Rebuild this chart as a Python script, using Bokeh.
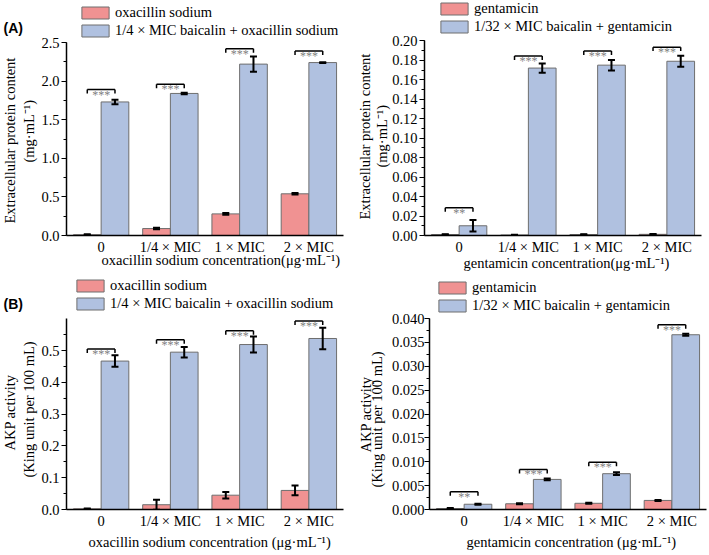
import math
from bokeh.plotting import figure
from bokeh.layouts import column, row
from bokeh.models import (Range1d, FixedTicker, SingleIntervalTicker, NumeralTickFormatter,
                          ColumnDataSource, Whisker, TeeHead, Legend, LegendItem, Title)
from bokeh.core.properties import value
from bokeh.embed import file_html
from bokeh.resources import INLINE

# ---------------- data ----------------
categories = ["0", "1/4 × MIC", "1 × MIC", "2 × MIC"]

# (A) left: extracellular protein, oxacillin sodium
prot_oxa = [0.01, 0.09, 0.28, 0.54]
prot_oxa_err = [0.005, 0.01, 0.01, 0.01]
prot_oxa_bai = [1.73, 1.84, 2.22, 2.24]
prot_oxa_bai_err = [0.03, 0.01, 0.10, 0.005]
prot_oxa_sig_y = [1.89, 1.96, 2.42, 2.39]
prot_oxa_sig = ["***", "***", "***", "***"]

# (A) right: extracellular protein, gentamicin
prot_gen = [0.001, 0.0005, 0.001, 0.0012]
prot_gen_err = [0.0003, 0.0003, 0.0003, 0.0003]
prot_gen_bai = [0.010, 0.172, 0.175, 0.179]
prot_gen_bai_err = [0.0058, 0.0047, 0.0054, 0.0057]
prot_gen_sig_y = [0.0284, 0.1844, 0.1895, 0.1935]
prot_gen_sig = ["**", "***", "***", "***"]

# (B) left: AKP activity, oxacillin sodium
akp_oxa = [0.002, 0.015, 0.045, 0.060]
akp_oxa_err = [0.001, 0.0155, 0.010, 0.0155]
akp_oxa_bai = [0.467, 0.495, 0.519, 0.538]
akp_oxa_bai_err = [0.018, 0.0165, 0.025, 0.034]
akp_oxa_sig_y = [0.505, 0.534, 0.562, 0.593]
akp_oxa_sig = ["***", "***", "***", "***"]

# (B) right: AKP activity, gentamicin
akp_gen = [0.0002, 0.0012, 0.0013, 0.0019]
akp_gen_err = [0.0001, 0.0001, 0.0001, 0.0001]
akp_gen_bai = [0.0011, 0.0063, 0.0075, 0.0366]
akp_gen_bai_err = [0.0001, 0.0002, 0.0003, 0.0002]
akp_gen_sig_y = [0.0037, 0.0084, 0.0099, 0.0387]
akp_gen_sig = ["**", "***", "***", "***"]

RED = "#F09292"
BLUE = "#B0C1E0"
EDGE = "#6E6E6E"
SERIF = "Liberation Serif"
FS = "14.5px"


def set_standoff(t, s):
    try:
        t.standoff = s
    except Exception:
        t.standoff = 0


def make_panel(width, height, bl, br, frame_bottom, axis_top, ymax, yint, yfmt,
               red, red_err, blue, blue_err, sig_y, sig, leg_labels, leg_pos,
               ylabels, ylab_cfg, xtitle, xt_cfg, panel_label=None, ylab_standoff=2):
    # frame spans from the top of the canvas down to frame_bottom; the y axis is bounded to [0, ymax]
    y_end = ymax * frame_bottom / float(frame_bottom - axis_top)
    p = figure(width=width, height=height, output_backend="svg", toolbar_location=None,
               x_range=Range1d(-0.5, 3.5), y_range=Range1d(0, y_end),
               min_border_left=bl, min_border_right=br, min_border_top=0,
               min_border_bottom=height - frame_bottom)
    p.xgrid.visible = False
    p.ygrid.visible = False
    p.outline_line_color = None
    p.background_fill_color = None
    p.border_fill_color = "white"

    idx = list(range(len(categories)))
    xr = [i - 0.2 for i in idx]
    xb = [i + 0.2 for i in idx]

    r_red = p.vbar(x=xr, top=red, width=0.4, bottom=0, fill_color=RED, line_color=EDGE, line_width=1)
    r_blue = p.vbar(x=xb, top=blue, width=0.4, bottom=0, fill_color=BLUE, line_color=EDGE, line_width=1)

    for xs, vals, errs in ((xr, red, red_err), (xb, blue, blue_err)):
        src = ColumnDataSource(dict(x=xs, up=[v + e for v, e in zip(vals, errs)],
                                    lo=[v - e for v, e in zip(vals, errs)]))
        w = Whisker(source=src, base="x", upper="up", lower="lo", line_width=2, line_color="black",
                    upper_head=TeeHead(size=7, line_width=2, line_color="black"),
                    lower_head=TeeHead(size=7, line_width=2, line_color="black"))
        w.level = "annotation"
        p.add_layout(w)

    # significance brackets
    drop = ymax * 4.0 / (frame_bottom - axis_top)
    p.segment(x0=xr, x1=xb, y0=sig_y, y1=sig_y, line_color="black", line_width=1.5)
    p.segment(x0=xr, x1=xr, y0=sig_y, y1=[y - drop for y in sig_y], line_color="black", line_width=1.5)
    p.segment(x0=xb, x1=xb, y0=sig_y, y1=[y - drop for y in sig_y], line_color="black", line_width=1.5)
    p.text(x=idx, y=sig_y, text=sig, text_align="center", text_baseline="alphabetic",
           y_offset=5, text_font=value(SERIF), text_font_size="12px", text_color="#808080")

    # axes
    xa = p.xaxis[0]
    xa.ticker = FixedTicker(ticks=idx)
    xa.major_label_overrides = {i: c for i, c in enumerate(categories)}
    xa.major_tick_line_color = None
    xa.minor_tick_line_color = None
    xa.major_tick_out = 0
    xa.major_tick_in = 0
    xa.minor_tick_out = 0
    xa.minor_tick_in = 0
    xa.axis_line_width = 1.5
    xa.axis_line_color = "black"
    xa.major_label_standoff = 3
    xa.major_label_text_font = SERIF
    xa.major_label_text_font_size = FS
    xa.major_label_text_color = "black"

    ya = p.yaxis[0]
    ya.bounds = (0, ymax)
    ya.ticker = SingleIntervalTicker(interval=yint, num_minor_ticks=2)
    ya.formatter = NumeralTickFormatter(format=yfmt)
    ya.axis_line_width = 1.5
    ya.axis_line_color = "black"
    ya.major_tick_in = 0
    ya.major_tick_out = 5
    ya.minor_tick_in = 0
    ya.minor_tick_out = 3
    ya.major_tick_line_color = "black"
    ya.minor_tick_line_color = "black"
    ya.major_tick_line_width = 1.2
    ya.major_label_standoff = ylab_standoff
    ya.major_label_text_font = SERIF
    ya.major_label_text_font_size = FS
    ya.major_label_text_color = "black"

    # y-axis title: two lines as titles in the left panel (inner line first)
    for txt, (off, so) in reversed(list(zip(ylabels, ylab_cfg))):
        t = Title(text=txt, align="left", offset=off, text_font=SERIF, text_font_size=FS,
                  text_font_style="normal", text_color="black")
        set_standoff(t, so)
        p.add_layout(t, "left")

    # x-axis title below the axis
    t = Title(text=xtitle, align="left", offset=xt_cfg[0], text_font=SERIF, text_font_size=FS,
              text_font_style="normal", text_color="black", vertical_align="bottom")
    set_standoff(t, xt_cfg[1])
    p.add_layout(t, "below")

    if panel_label:
        p.title.text = panel_label[0]
        p.title.align = "left"
        p.title.offset = panel_label[1]
        set_standoff(p.title, panel_label[2])
        p.title.text_font = "Liberation Sans"
        p.title.text_font_style = "bold"
        p.title.text_font_size = "14px"
        p.title.text_color = "black"

    legend = Legend(items=[LegendItem(label=leg_labels[0], renderers=[r_red]),
                           LegendItem(label=leg_labels[1], renderers=[r_blue])],
                    location=leg_pos, orientation="vertical",
                    glyph_width=34, glyph_height=15, label_height=15, label_standoff=3,
                    spacing=1, padding=0, margin=0, border_line_color=None,
                    background_fill_alpha=0, label_text_font=SERIF,
                    label_text_font_size=FS, label_text_color="black")
    p.add_layout(legend)
    return p


pA1 = make_panel(354, 277, 66, 11, 235, 42, 2.5, 0.5, "0.0",
                 prot_oxa, prot_oxa_err, prot_oxa_bai, prot_oxa_bai_err, prot_oxa_sig_y, prot_oxa_sig,
                 ["oxacillin sodium", "1/4 × MIC baicalin + oxacillin sodium"], (12, 196),
                 ["Extracellular protein content", "(mg·mL⁻¹)"], [(12, -2), (73, 4)],
                 "oxacillin sodium concentration(μg·mL⁻¹)", (35, -20), ("(A)", -63, -70))
pA2 = make_panel(355, 277, 70, 8, 239, 41, 0.2, 0.02, "0.00",
                 prot_gen, prot_gen_err, prot_gen_bai, prot_gen_bai_err, prot_gen_sig_y, prot_gen_sig,
                 ["gentamicin", "1/32 × MIC baicalin + gentamicin"], (13, 200),
                 ["Extracellular protein content", "(mg·mL⁻¹)"], [(16, -3), (68, 0)],
                 "gentamicin concentration(μg·mL⁻¹)", (39, -9))
pB1 = make_panel(354, 278, 66, 11, 236, 42, 0.6, 0.1, "0.0",
                 akp_oxa, akp_oxa_err, akp_oxa_bai, akp_oxa_bai_err, akp_oxa_sig_y, akp_oxa_sig,
                 ["oxacillin sodium", "1/4 × MIC baicalin + oxacillin sodium"], (7, 197),
                 ["AKP activity", "(King unit per 100 mL)"], [(59, -2), (32, 4)],
                 "oxacillin sodium concentration (μg·mL⁻¹)", (22, 1), ("(B)", -63, -68))
pB2 = make_panel(355, 278, 75, 3, 232, 41, 0.04, 0.005, "0.000",
                 akp_gen, akp_gen_err, akp_gen_bai, akp_gen_bai_err, akp_gen_sig_y, akp_gen_sig,
                 ["gentamicin", "1/32 × MIC baicalin + gentamicin"], (6, 195),
                 ["AKP activity", "(King unit per 100 mL)"], [(57, -20), (22, 7)],
                 "gentamicin concentration (μg·mL⁻¹)", (37, 1), ylab_standoff=0)

layout = column(row(pA1, pA2, spacing=0), row(pB1, pB2, spacing=0), spacing=0)

open("out.html", "w").write(file_html(layout, INLINE))
